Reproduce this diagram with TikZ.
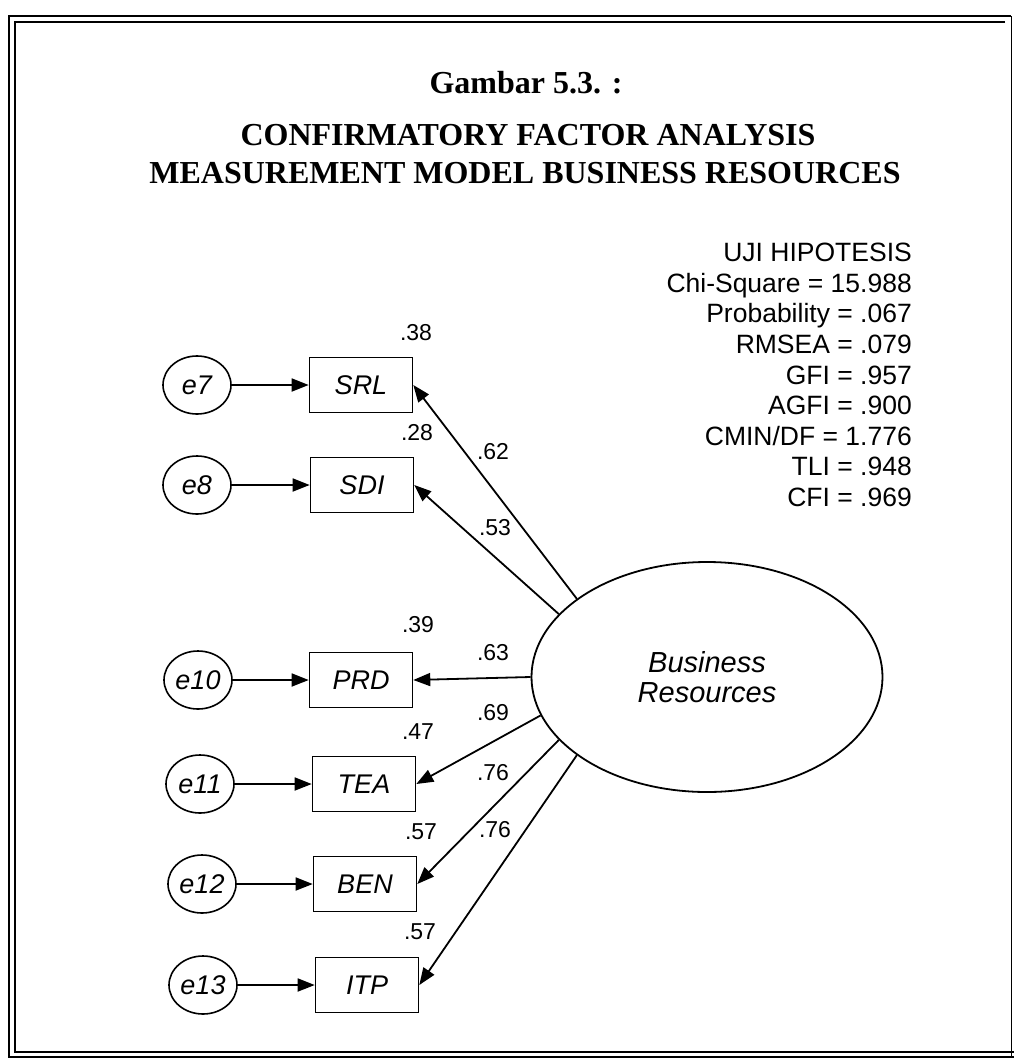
\documentclass[tikz,border=0pt]{standalone}
\usepackage{fontspec}
\setmainfont{Liberation Serif}
\newfontfamily\arial{Liberation Sans}
\usetikzlibrary{shapes.geometric,arrows.meta}
\begin{document}
\begin{tikzpicture}[x=1pt,y=-1pt,
  obs/.style={draw, line width=1.6pt, minimum width=103pt, minimum height=55pt, inner sep=0pt, font=\arial\itshape\fontsize{27}{30}\selectfont},
  err/.style={ellipse, draw, line width=1.6pt, minimum width=68pt, minimum height=58pt, inner sep=0pt, font=\arial\itshape\fontsize{27}{30}\selectfont},
  lat/.style={ellipse, draw, line width=1.8pt, minimum width=351pt, minimum height=230pt, inner sep=0pt, align=center, font=\arial\itshape\fontsize{29}{30}\selectfont},
  arr/.style={line width=1.8pt, -{Triangle[length=17pt,width=13pt]}},
  lab/.style={font=\arial\fontsize{23}{26}\selectfont, inner sep=0pt},
  stat/.style={font=\arial\fontsize{26.5}{30}\selectfont, inner sep=0pt, anchor=base east},
  ttl/.style={font=\bfseries\fontsize{32}{38}\selectfont, inner sep=0pt, anchor=base}
]
\useasboundingbox (0,0) rectangle (1014,1058);
% frame
\draw[line width=2.4pt] (1011,16) -- (9,16) -- (9,1057) -- (1014,1057);
\draw[line width=1.2pt] (1005,22) -- (15,22) -- (15,1052) -- (1014,1052);
\draw[line width=0.8pt] (1011,16) -- (1011,1057);
% title
\node[ttl] (t0) at (526,93) {Gambar 5.3. :};
\node[ttl] (t1) at (528,145) {CONFIRMATORY FACTOR ANALYSIS};
\node[ttl] (t2) at (525,183) {MEASUREMENT MODEL BUSINESS RESOURCES};
% statistics
\node[stat] (s1) at (912,261) {UJI HIPOTESIS};
\node[stat] (s2) at (912,292) {Chi-Square = 15.988};
\node[stat] (s3) at (912,322) {Probability = .067};
\node[stat] (s4) at (912,353) {RMSEA = .079};
\node[stat] (s5) at (912,384) {GFI = .957};
\node[stat] (s6) at (912,414) {AGFI = .900};
\node[stat] (s7) at (912,445) {CMIN/DF = 1.776};
\node[stat] (s8) at (912,475) {TLI = .948};
\node[stat] (s9) at (912,506) {CFI = .969};
% observed variables
\node[obs] (SRL) at (361,385) {SRL};
\node[obs] (SDI) at (362,485) {SDI};
\node[obs] (PRD) at (361,680) {PRD};
\node[obs] (TEA) at (364,784) {TEA};
\node[obs] (BEN) at (365,884) {BEN};
\node[obs] (ITP) at (367,985) {ITP};
% error terms
\node[err] (e7) at (197,385) {e7};
\node[err] (e8) at (197,485) {e8};
\node[err] (e10) at (198,680) {e10};
\node[err] (e11) at (200,784) {e11};
\node[err] (e12) at (202,884) {e12};
\node[err] (e13) at (203,985) {e13};
% latent
\node[lat] (F) at (707,677) {Business\\Resources};
% error arrows
\draw[arr] (e7) -- (SRL);
\draw[arr] (e8) -- (SDI);
\draw[arr] (e10) -- (PRD);
\draw[arr] (e11) -- (TEA);
\draw[arr] (e12) -- (BEN);
\draw[arr] (e13) -- (ITP);
% loadings
\draw[arr] (F.149) -- (SRL.east);
\draw[arr] (F.157.5) -- (SDI.east);
\draw[arr] (F.180) -- (PRD.east);
\draw[arr] (F.193.5) -- (TEA.east);
\draw[arr] (F.203.6) -- (BEN.east);
\draw[arr] (F.211.6) -- (ITP.east);
% labels
\node[lab] (r1) at (416,333) {.38};
\node[lab] (r2) at (417,433) {.28};
\node[lab] (r3) at (418,625) {.39};
\node[lab] (r4) at (418,732) {.47};
\node[lab] (r5) at (421,832) {.57};
\node[lab] (r6) at (420,932) {.57};
\node[lab] (w1) at (493,452) {.62};
\node[lab] (w2) at (495,528) {.53};
\node[lab] (w3) at (493,653) {.63};
\node[lab] (w4) at (493,713) {.69};
\node[lab] (w5) at (493,773) {.76};
\node[lab] (w6) at (495,830) {.76};
\end{tikzpicture}
\end{document}
